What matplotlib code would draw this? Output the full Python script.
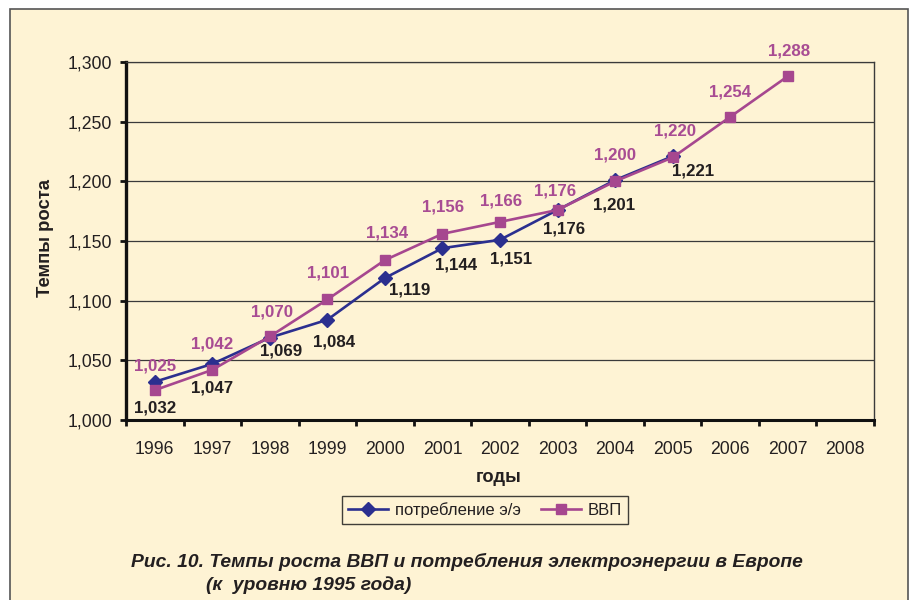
import matplotlib.pyplot as plt
import matplotlib.patches as mpatches
import numpy as np

#=============================================#
# data                    #
#=============================================#
years = ['1996', '1997', '1998', '1999', '2000', '2001', '2002',
         '2003', '2004', '2005', '2006', '2007', '2008']
elec = [1.032, 1.047, 1.069, 1.084, 1.119, 1.144, 1.151, 1.176, 1.201, 1.221]
gdp = [1.025, 1.042, 1.070, 1.101, 1.134, 1.156, 1.166, 1.176, 1.200, 1.220, 1.254, 1.288]

# label offsets in pixels (dx, dy), hand tuned to the picture
elec_off = [(0, -26), (0, -24), (11, -13), (7, -22), (25, -12), (14, -17),
            (11, -19), (7, -19), (-1, -25), (20, -15)]
gdp_off = [(0, 24), (0, 26), (2, 24), (1, 26), (2, 27), (1, 27), (1, 21),
           (-2, 19), (0, 26), (2, 26), (0, 25), (1, 25)]

blue = '#2B2F8F'
pink = '#A6478F'
pink_txt = '#A84C93'
dark = '#231F20'
cream = '#FEF3D4'

plt.rcParams['font.family'] = ['Liberation Sans', 'DejaVu Sans']

W, H = 910, 600
fig = plt.figure(figsize=(W / 100, H / 100), dpi=100, facecolor='white')

# outer frame of the figure
frame = mpatches.Rectangle((10 / W, -0.05), 898 / W, 1.05 - 9 / H,
                           transform=fig.transFigure, facecolor=cream,
                           edgecolor='#555555', linewidth=1.2, zorder=-5)
fig.patches.append(frame)

ax = fig.add_axes([126 / W, 1 - 420 / H, 748 / W, 358 / H])
ax.set_facecolor(cream)
ax.set_zorder(2)

x = np.arange(len(years))
ax.plot(x[:len(elec)], elec, color=blue, lw=1.9, marker='D', ms=7.3,
        mec=blue, mfc=blue, label='потребление э/э', zorder=3)
ax.plot(x[:len(gdp)], gdp, color=pink, lw=1.9, marker='s', ms=6.8,
        mec=pink, mfc=pink, label='ВВП', zorder=4)

def fmt(v):
    return ('%.3f' % v).replace('.', ',')

for i, v in enumerate(elec):
    ax.annotate(fmt(v), (x[i], v), xytext=elec_off[i], textcoords='offset pixels',
                ha='center', va='center', fontsize=12.2, fontweight='bold',
                color=dark, zorder=5, annotation_clip=False)
for i, v in enumerate(gdp):
    ax.annotate(fmt(v), (x[i], v), xytext=gdp_off[i], textcoords='offset pixels',
                ha='center', va='center', fontsize=12.2, fontweight='bold',
                color=pink_txt, zorder=5, annotation_clip=False)

ax.set_xlim(-0.5, len(years) - 0.5)
ax.set_ylim(1.0, 1.3)
yt = np.arange(1.0, 1.3001, 0.05)
ax.set_yticks(yt)
ax.set_yticklabels([fmt(t) for t in yt])
ax.yaxis.grid(True, color='#3a3a3a', lw=0.9)
ax.set_axisbelow(True)

# categories: ticks on the boundaries, labels in the middle
ax.set_xticks(np.arange(-0.5, len(years), 1.0))
ax.set_xticklabels([])
ax.set_xticks(x, minor=True)
ax.set_xticklabels(years, minor=True)
ax.tick_params(axis='x', which='major', length=4, width=2, direction='out', color='#111111')
ax.tick_params(axis='x', which='minor', length=0, pad=15, labelsize=12.7, labelcolor=dark)
ax.tick_params(axis='y', length=4, width=2, direction='out', pad=6, labelsize=12.7,
               labelcolor=dark, color='#111111')

ax.spines['left'].set_linewidth(2.4)
ax.spines['left'].set_color('#111111')
ax.spines['bottom'].set_linewidth(2.2)
ax.spines['bottom'].set_color('#111111')
ax.spines['right'].set_linewidth(1.0)
ax.spines['right'].set_color('#3a3a3a')
ax.spines['top'].set_linewidth(0.9)
ax.spines['top'].set_color('#3a3a3a')

fig.text(46 / W, 1 - 238 / H, 'Темпы роста', rotation=90, ha='center', va='center',
         fontsize=13.3, fontweight='bold', color=dark)
fig.text(499 / W, 1 - 478 / H, 'годы', ha='center', va='center',
         fontsize=13.2, fontweight='bold', color=dark)

leg = fig.legend(loc='center', bbox_to_anchor=(485 / W, 1 - 510 / H), ncol=2,
                 fontsize=12, frameon=True, fancybox=False, handlelength=2.4,
                 handletextpad=0.4, columnspacing=1.2, borderpad=0.35)
leg.get_frame().set_edgecolor('#111111')
leg.get_frame().set_linewidth(1.0)
leg.get_frame().set_facecolor(cream)
for t in leg.get_texts():
    t.set_color(dark)

fig.text(131 / W, 1 - 562 / H, 'Рис. 10. Темпы роста ВВП и потребления электроэнергии в Европе',
         ha='left', va='center', fontsize=13.9, fontweight='bold', style='italic', color=dark)
fig.text(206 / W, 1 - 585 / H, '(к  уровню 1995 года)',
         ha='left', va='center', fontsize=13.9, fontweight='bold', style='italic', color=dark)

plt.savefig('out.png', dpi=100, facecolor=fig.get_facecolor())
